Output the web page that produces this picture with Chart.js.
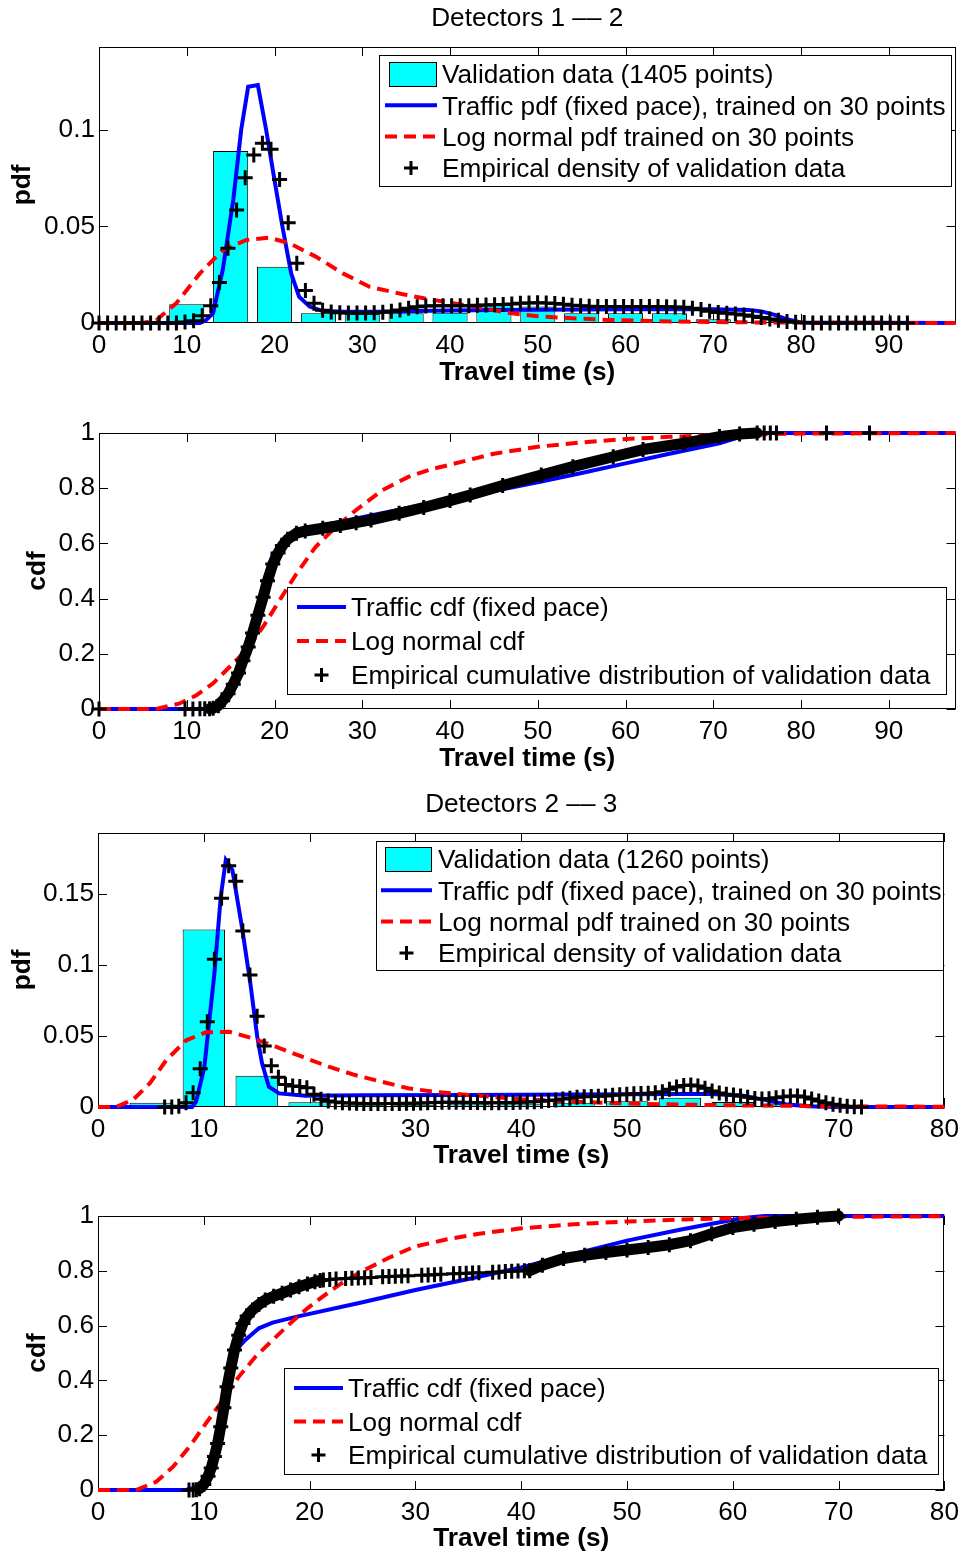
<!DOCTYPE html>
<html>
<head>
<meta charset="utf-8">
<script src="https://cdn.jsdelivr.net/npm/chart.js@4.4.1/dist/chart.umd.min.js"></script>
<style>
  html, body { margin: 0; padding: 0; background: #fff; }
  body { width: 966px; height: 1552px; position: relative; overflow: hidden; }
  canvas { position: absolute; left: 0; }
</style>
</head>
<body>
<canvas id="c1" width="966" height="392" style="top:0px"></canvas>
<canvas id="c2" width="966" height="386" style="top:392px"></canvas>
<canvas id="c3" width="966" height="397" style="top:778px"></canvas>
<canvas id="c4" width="966" height="379" style="top:1175px"></canvas>
<script>
/* ---- Detectors 1 -- 2 : pdf ---- */
const hist12X = [10, 15, 20, 25, 30, 35, 40, 45, 50, 55, 60, 65, 70, 75];
const hist12Y = [0.0097, 0.0891, 0.0292, 0.0050, 0.0047, 0.0050, 0.0053, 0.0095, 0.0085, 0.0050, 0.0050, 0.0050, 0.0020, 0.0005];

const traffic12X = [0, 11.5, 12.2, 13, 14.1, 15.3, 16.2, 17.0, 18.1, 19.05, 20, 20.9, 21.9, 22.8, 24, 25.5, 28, 32, 36, 40, 45, 50, 55, 60, 65, 70, 74, 75.5, 77, 78.5, 80, 97.6];
const traffic12Y = [0, 0, 0.0015, 0.005, 0.0275, 0.0637, 0.1, 0.1224, 0.1233, 0.1, 0.074, 0.05, 0.0257, 0.0136, 0.0085, 0.0062, 0.0058, 0.0058, 0.0062, 0.0065, 0.0067, 0.0069, 0.007, 0.0071, 0.0071, 0.0071, 0.0068, 0.006, 0.0042, 0.0018, 0.0003, 0];

const logn12X = [0, 5, 6.55, 8.8, 11.5, 14.1, 16.8, 19.4, 21.7, 24.7, 27.8, 30.8, 34.5, 37, 40, 44, 47, 50, 54, 58, 63, 68, 75, 85, 97.6];
const logn12Y = [0, 0, 0.0016, 0.0102, 0.0257, 0.0378, 0.043, 0.0442, 0.0413, 0.0344, 0.0257, 0.0188, 0.015, 0.0128, 0.0105, 0.0075, 0.005, 0.0035, 0.0024, 0.0016, 0.001, 0.0006, 0.0003, 0.0001, 0];

const dens12X = [0, 0.98, 1.96, 2.94, 3.92, 4.9, 5.88, 6.86, 7.84, 8.82, 9.8, 10.78, 11.76, 12.74, 13.72, 14.7, 15.68, 16.66, 17.64, 18.62,
  19.6, 20.58, 21.56, 22.54, 23.52, 24.5, 25.48, 26.46, 27.44, 28.42, 29.4, 30.38, 31.36, 32.34, 33.32, 34.3, 35.28, 36.26, 37.24, 38.22,
  39.2, 40.18, 41.16, 42.14, 43.12, 44.1, 45.08, 46.06, 47.04, 48.02, 49, 49.98, 50.96, 51.94, 52.92, 53.9, 54.88, 55.86, 56.84, 57.82,
  58.8, 59.78, 60.76, 61.74, 62.72, 63.7, 64.68, 65.66, 66.64, 67.62, 68.6, 69.58, 70.56, 71.54, 72.52, 73.5, 74.48, 75.46, 76.44, 77.42,
  78.4, 79.38, 80.36, 81.34, 82.32, 83.3, 84.28, 85.26, 86.24, 87.22, 88.2, 89.18, 90.16, 91.14, 92.12];
const dens12Y = [0, 0, 0, 0, 0, 0, 0, 0, 0, 0, 0.0005, 0.0012, 0.0038, 0.009, 0.021, 0.0387, 0.0585, 0.0753, 0.087, 0.0931,
  0.09, 0.0744, 0.052, 0.031, 0.0168, 0.0102, 0.0066, 0.0057, 0.0053, 0.0052, 0.0052, 0.0052, 0.0053, 0.0056, 0.0061, 0.0068, 0.0076, 0.0084, 0.0088, 0.0089,
  0.0089, 0.0089, 0.0089, 0.009, 0.0092, 0.0093, 0.0094, 0.0096, 0.0099, 0.0102, 0.0104, 0.0105, 0.0104, 0.0101, 0.0097, 0.0092, 0.0089, 0.0087, 0.0086, 0.0086,
  0.0086, 0.0086, 0.0086, 0.0085, 0.0085, 0.0085, 0.0084, 0.0083, 0.0081, 0.0077, 0.007, 0.0061, 0.0054, 0.005, 0.0047, 0.0042, 0.0035, 0.0028, 0.0021, 0.0014,
  0.0008, 0.0004, 0.0002, 0, 0, 0, 0, 0, 0, 0, 0, 0, 0, 0, 0];

/* ---- Detectors 1 -- 2 : cdf ---- */
const tcdf12X = [0, 12, 13, 14, 15, 16, 17, 17.5, 18.5, 19.8, 20.8, 21.7, 22.5, 25.5, 29.3, 34.2, 40, 45, 50.4, 55, 60, 65, 70.7, 73, 74.8, 97.6];
const tcdf12Y = [0, 0, 0.01, 0.04, 0.09, 0.17, 0.26, 0.31, 0.42, 0.56, 0.605, 0.632, 0.642, 0.665, 0.69, 0.722, 0.76, 0.79, 0.824, 0.855, 0.89, 0.925, 0.963, 0.985, 1, 1];

const lcdf12X = [0, 6.5, 9.2, 11.1, 13, 14.9, 16.8, 18.7, 20.6, 22.5, 24.7, 27, 29.3, 32.3, 35.3, 38, 40, 45, 50, 55, 60, 65, 70, 80, 97.6];
const lcdf12Y = [0, 0, 0.02, 0.05, 0.093, 0.153, 0.214, 0.298, 0.395, 0.49, 0.588, 0.66, 0.721, 0.793, 0.842, 0.87, 0.885, 0.925, 0.95, 0.966, 0.978, 0.986, 0.992, 0.998, 1];

const ecdf12X = [12.6, 13, 13.6, 14.1, 14.7, 15.3, 15.9, 16.4, 17.0, 17.5, 18.1, 18.7, 19.2, 19.8, 20.4, 20.9, 21.5, 22.5, 23.5, 25.5,
  27.5, 29.3, 31, 34.2, 37, 40, 42.3, 46, 50.4, 54, 58.6, 62, 66.7, 70.7, 73, 75];
const ecdf12Y = [0.001, 0.003, 0.012, 0.03, 0.055, 0.09, 0.13, 0.175, 0.225, 0.275, 0.34, 0.405, 0.465, 0.525, 0.565, 0.592, 0.615, 0.637, 0.645, 0.655,
  0.665, 0.675, 0.685, 0.709, 0.73, 0.755, 0.775, 0.81, 0.848, 0.878, 0.914, 0.94, 0.963, 0.987, 0.996, 1];
const ecdf12SparseX = [0, 9.8, 10.7, 11.5, 12.05, 75.8, 76.5, 77.2, 82.9, 87.8];
const ecdf12SparseY = [0, 0, 0, 0.0007, 0.0007, 1, 1, 1, 1, 1];

/* ---- Detectors 2 -- 3 : pdf ---- */
const hist23X = [5, 10, 15, 20, 25, 30, 35, 40, 45, 50, 55, 60, 65, 70];
const hist23Y = [0.003, 0.125, 0.022, 0.0033, 0.0015, 0.0015, 0.002, 0.002, 0.003, 0.004, 0.0065, 0.0035, 0.0025, 0.001];

const traffic23X = [0, 8.9, 9.27, 10.05, 11.0, 11.6, 12.08, 12.7, 13.6, 14.4, 15.05, 15.5, 16.15, 17.1, 19.6, 25, 35, 45, 55, 58, 61, 63, 65, 67, 70, 80];
const traffic23Y = [0, 0, 0.0037, 0.028, 0.094, 0.148, 0.174, 0.167, 0.127, 0.087, 0.0495, 0.031, 0.0143, 0.0096, 0.008, 0.0082, 0.0085, 0.0088, 0.0092, 0.0092, 0.008, 0.005, 0.002, 0.0005, 0, 0];

const logn23X = [0, 1.7, 3.3, 4.9, 6.45, 8.33, 10.2, 12.4, 14.6, 16.8, 19.3, 21.8, 24.3, 26.8, 29.3, 32, 35, 40, 45, 50, 55, 60, 70, 80];
const logn23Y = [0, 0, 0.005, 0.0167, 0.033, 0.047, 0.0526, 0.053, 0.0484, 0.0425, 0.0354, 0.0284, 0.0225, 0.0178, 0.0132, 0.0105, 0.0085, 0.0055, 0.0037, 0.0025, 0.0017, 0.0012, 0.0005, 0.0002];

const dens23X = [6.30, 6.97, 7.64, 8.32, 8.99, 9.66, 10.33, 11.00, 11.68, 12.35, 13.02, 13.69, 14.36, 15.04, 15.71, 16.38, 17.05, 17.72, 18.40, 19.07,
  19.74, 20.41, 21.08, 21.76, 22.43, 23.10, 23.77, 24.44, 25.12, 25.79, 26.46, 27.13, 27.80, 28.48, 29.15, 29.82, 30.49, 31.16, 31.84, 32.51,
  33.18, 33.85, 34.52, 35.20, 35.87, 36.54, 37.21, 37.88, 38.56, 39.23, 39.90, 40.57, 41.24, 41.92, 42.59, 43.26, 43.93, 44.60, 45.28, 45.95,
  46.62, 47.29, 47.96, 48.64, 49.31, 49.98, 50.65, 51.32, 52.00, 52.67, 53.34, 54.01, 54.68, 55.36, 56.03, 56.70, 57.37, 58.04, 58.72, 59.39,
  60.06, 60.73, 61.40, 62.08, 62.75, 63.42, 64.09, 64.76, 65.44, 66.11, 66.78, 67.45, 68.12, 68.80, 69.47, 70.14, 70.81, 71.48, 72.16];
const dens23Y = [0, 0, 0.0005, 0.003, 0.01, 0.027, 0.06, 0.104, 0.147, 0.17, 0.159, 0.124, 0.093, 0.064, 0.043, 0.029, 0.021, 0.0158, 0.0148, 0.0145,
  0.0135, 0.009, 0.0055, 0.0042, 0.0035, 0.003, 0.0028, 0.0026, 0.0025, 0.0024, 0.0024, 0.0024, 0.0024, 0.0025, 0.0026, 0.0027, 0.0028, 0.003, 0.0032, 0.0033,
  0.0034, 0.0034, 0.0033, 0.0032, 0.0031, 0.003, 0.003, 0.003, 0.0031, 0.0032, 0.0033, 0.0035, 0.0037, 0.004, 0.0045, 0.005, 0.0056, 0.0062, 0.0068, 0.0072,
  0.0074, 0.0076, 0.0078, 0.0082, 0.0086, 0.009, 0.0093, 0.0095, 0.0097, 0.0101, 0.0108, 0.0125, 0.014, 0.0152, 0.0155, 0.0148, 0.0132, 0.0112, 0.0098, 0.009,
  0.0085, 0.0078, 0.0068, 0.006, 0.0057, 0.0058, 0.0065, 0.0073, 0.0078, 0.0077, 0.007, 0.0057, 0.0043, 0.003, 0.002, 0.0012, 0.0006, 0.0002, 0];

/* ---- Detectors 2 -- 3 : cdf ---- */
const tcdf23X = [0, 8.3, 9.5, 10.4, 11.0, 11.6, 12.2, 12.9, 13.9, 15.2, 16.5, 18.7, 25, 30, 35, 40, 45, 50, 55, 58, 61, 63, 80];
const tcdf23Y = [0, 0, 0.012, 0.05, 0.12, 0.23, 0.375, 0.505, 0.547, 0.59, 0.611, 0.632, 0.685, 0.73, 0.77, 0.812, 0.862, 0.91, 0.95, 0.972, 0.993, 1, 1];

const lcdf23X = [0, 3.6, 5.5, 7.1, 8.64, 10.2, 11.8, 13.3, 14.9, 16.5, 18.0, 19.6, 21.2, 23.0, 24.9, 27.4, 29.9, 33, 36, 40, 45, 50, 55, 60, 70, 80];
const lcdf23Y = [0, 0, 0.03, 0.085, 0.158, 0.243, 0.328, 0.413, 0.487, 0.547, 0.602, 0.657, 0.705, 0.754, 0.797, 0.846, 0.888, 0.915, 0.935, 0.955, 0.97, 0.98, 0.987, 0.992, 0.997, 0.999];

const ecdf23X = [9.6, 10.0, 10.4, 10.7, 11.0, 11.3, 11.6, 11.9, 12.2, 12.55, 12.9, 13.3, 13.7, 14.1, 14.6, 15.2, 15.8, 16.6, 17.4, 18.2, 19, 19.8, 20.5, 21.0];
const ecdf23Y = [0.005, 0.02, 0.05, 0.08, 0.122, 0.17, 0.231, 0.3, 0.377, 0.445, 0.511, 0.565, 0.608, 0.635, 0.657, 0.677, 0.693, 0.707, 0.718, 0.73, 0.742, 0.752, 0.76, 0.765];
const ecdf23TailX = [40.8, 42, 44, 46, 48, 50, 52, 54, 56, 58, 60, 62, 64, 66, 68, 70];
const ecdf23TailY = [0.8, 0.82, 0.845, 0.857, 0.867, 0.876, 0.885, 0.895, 0.91, 0.935, 0.958, 0.97, 0.98, 0.988, 0.995, 1];
const ecdf23SparseX = [8.6, 9.0, 9.3, 21.3, 21.9, 22.5, 23.4, 24.0, 24.6, 25.2, 25.8, 26.9, 27.5, 28.1, 28.7, 29.3, 30.6, 31.2, 31.8, 32.4, 33.6, 34.2, 34.8, 35.4, 36.0, 37.3, 37.9, 38.5, 39.1, 39.7, 40.3];
const ecdf23SparseY = [0, 0, 0.001, 0.766, 0.768, 0.770, 0.772, 0.773, 0.774, 0.775, 0.776, 0.778, 0.779, 0.780, 0.781, 0.782, 0.784, 0.785, 0.786, 0.787, 0.789, 0.790, 0.791, 0.792, 0.793, 0.795, 0.796, 0.797, 0.798, 0.799, 0.800];

/* ---- tick values ---- */
const xTicks12 = [0, 10, 20, 30, 40, 50, 60, 70, 80, 90];
const xTicks23 = [0, 10, 20, 30, 40, 50, 60, 70, 80];
const yTicksPdf12 = [0, 0.05, 0.1];
const yTicksPdf23 = [0, 0.05, 0.1, 0.15];
const yTicksCdf = [0, 0.2, 0.4, 0.6, 0.8, 1];

const FONT = '"Liberation Sans", Arial, Helvetica, sans-serif';
const FSIZE = 26.2;
const CYAN = '#00ffff', BLUE = '#0000ff', RED = '#ff0000';
const DASH = [12, 7];

function pts(xs, ys) {
    return xs.map((x, i) => ({ x, y: ys[i] }));
}

function histDs(xs, ys) {
    return {
        type: 'bar', data: pts(xs, ys), backgroundColor: CYAN, borderColor: '#000',
        borderWidth: 1, borderSkipped: false, barPercentage: 0.8, categoryPercentage: 1, order: 4,
    };
}
function solidDs(xs, ys) {
    return {
        type: 'line', data: pts(xs, ys), borderColor: BLUE, borderWidth: 4,
        pointRadius: 0, tension: 0, fill: false, order: 3, clip: false,
    };
}
function dashDs(xs, ys) {
    return {
        type: 'line', data: pts(xs, ys), borderColor: RED, borderWidth: 4, borderDash: DASH,
        pointRadius: 0, tension: 0, fill: false, order: 2, clip: false,
    };
}
function crossDs(xs, ys, band) {
    return {
        type: 'line', data: pts(xs, ys), showLine: !!band, borderColor: '#000',
        borderWidth: band ? 11 : 0, borderJoinStyle: 'round', borderCapStyle: 'round', tension: 0,
        pointStyle: 'cross', pointRadius: 7.5, pointBorderWidth: 3, pointBorderColor: '#000',
        order: 1, clip: false,
    };
}

/* box + inward ticks, MATLAB style */
const matlabAxes = {
    id: 'matlabAxes',
    beforeDatasetsDraw(chart) {
        const { ctx, chartArea: a, scales: { x, y } } = chart;
        ctx.save();
        ctx.strokeStyle = '#000';
        ctx.lineWidth = 1;
        ctx.beginPath();
        x.ticks.forEach(t => {
            const px = Math.round(x.getPixelForValue(t.value)) + 0.5;
            ctx.moveTo(px, a.bottom); ctx.lineTo(px, a.bottom - 9);
            ctx.moveTo(px, a.top); ctx.lineTo(px, a.top + 9);
        });
        y.ticks.forEach(t => {
            const py = Math.round(y.getPixelForValue(t.value)) + 0.5;
            ctx.moveTo(a.left, py); ctx.lineTo(a.left + 9, py);
            ctx.moveTo(a.right, py); ctx.lineTo(a.right - 9, py);
        });
        ctx.stroke();
        ctx.strokeRect(Math.round(a.left) + 0.5, Math.round(a.top) + 0.5,
            Math.round(a.right - a.left) - 1, Math.round(a.bottom - a.top) - 1);
        ctx.restore();
    },
};

const panelTitle = {
    id: 'panelTitle',
    afterDraw(chart, args, o) {
        if (!o.text) return;
        const { ctx, chartArea: a } = chart;
        ctx.save();
        ctx.fillStyle = '#000';
        ctx.font = `${FSIZE}px ${FONT}`;
        ctx.textAlign = 'center';
        ctx.textBaseline = 'middle';
        ctx.fillText(o.text, (a.left + a.right) / 2, o.y);
        ctx.restore();
    },
};

const boxLegend = {
    id: 'boxLegend',
    afterDraw(chart, args, o) {
        if (!o.items) return;
        const ctx = chart.ctx;
        ctx.save();
        ctx.fillStyle = '#fff';
        ctx.fillRect(o.x, o.y, o.w, o.h);
        ctx.strokeStyle = '#000';
        ctx.lineWidth = 1;
        ctx.strokeRect(o.x + 0.5, o.y + 0.5, o.w, o.h);
        ctx.font = `${FSIZE}px ${FONT}`;
        ctx.textAlign = 'left';
        ctx.textBaseline = 'middle';
        o.items.forEach((it, i) => {
            const cy = o.row0 + i * o.rowStep;
            ctx.setLineDash([]);
            if (it.type === 'patch') {
                ctx.fillStyle = CYAN;
                ctx.fillRect(o.sx1 + 4, cy - 12, o.sx2 - o.sx1 - 5, 24);
                ctx.strokeStyle = '#000';
                ctx.lineWidth = 1;
                ctx.strokeRect(o.sx1 + 4.5, cy - 11.5, o.sx2 - o.sx1 - 5, 24);
            } else if (it.type === 'solid' || it.type === 'dash') {
                ctx.strokeStyle = it.type === 'solid' ? BLUE : RED;
                ctx.lineWidth = 4;
                if (it.type === 'dash') ctx.setLineDash(DASH);
                ctx.beginPath();
                ctx.moveTo(o.sx1, cy); ctx.lineTo(o.sx2, cy);
                ctx.stroke();
            } else {
                const cx = (o.sx1 + o.sx2) / 2;
                ctx.strokeStyle = '#000';
                ctx.lineWidth = 3;
                ctx.beginPath();
                ctx.moveTo(cx - 7, cy); ctx.lineTo(cx + 7, cy);
                ctx.moveTo(cx, cy - 7); ctx.lineTo(cx, cy + 7);
                ctx.stroke();
            }
            ctx.fillStyle = '#000';
            ctx.fillText(it.text, o.tx, cy + 2);
        });
        ctx.restore();
    },
};

function panel(id, p) {
    const tickFont = { family: FONT, size: FSIZE };
    const titleFont = { family: FONT, size: FSIZE, weight: 'bold' };
    return new Chart(document.getElementById(id), {
        type: 'scatter',
        data: { datasets: p.datasets },
        options: {
            responsive: false,
            animation: false,
            events: [],
            layout: { padding: { top: p.padTop, right: p.padRight, left: 0, bottom: 0 } },
            scales: {
                x: {
                    type: 'linear', min: 0, max: p.xMax, offset: false,
                    grid: { display: false, drawTicks: false }, border: { display: false },
                    afterBuildTicks: s => { s.ticks = p.xTicks.map(v => ({ value: v })); },
                    afterFit: s => { s.height = p.xHeight; },
                    ticks: { color: '#000', font: tickFont, padding: 7, maxRotation: 0, autoSkip: false, callback: v => String(v) },
                    title: { display: true, text: 'Travel time (s)', color: '#000', font: titleFont, padding: { top: 0, bottom: p.xTitlePad } },
                },
                y: {
                    type: 'linear', min: 0, max: p.yMax,
                    grid: { display: false, drawTicks: false }, border: { display: false },
                    afterBuildTicks: s => { s.ticks = p.yTicks.map(v => ({ value: v })); },
                    afterFit: s => { s.width = p.yWidth; },
                    ticks: { color: '#000', font: tickFont, padding: 4, autoSkip: false, callback: v => String(v) },
                    title: { display: true, text: p.yTitle, color: '#000', font: titleFont, padding: { top: p.yTitlePad, bottom: 0 } },
                },
            },
            plugins: {
                legend: { display: false },
                tooltip: { enabled: false },
                panelTitle: p.title || {},
                boxLegend: p.legend,
            },
        },
        plugins: [matlabAxes, panelTitle, boxLegend],
    });
}

panel('c1', {
    padTop: 47, padRight: 8, yWidth: 99, xHeight: 69, xMax: 97.6, yMax: 0.143,
    xTicks: xTicks12, yTicks: yTicksPdf12, yTitle: 'pdf', yTitlePad: 7, xTitlePad: 4,
    title: { text: 'Detectors 1 \u2013\u2013 2', y: 19 },
    datasets: [
        histDs(hist12X, hist12Y),
        solidDs(traffic12X, traffic12Y),
        dashDs(logn12X, logn12Y),
        crossDs(dens12X, dens12Y, false),
    ],
    legend: {
        x: 379, y: 55, w: 572, h: 131, row0: 74, rowStep: 31.3, sx1: 385, sx2: 437, tx: 442,
        items: [
            { type: 'patch', text: 'Validation data (1405 points)' },
            { type: 'solid', text: 'Traffic pdf (fixed pace), trained on 30 points' },
            { type: 'dash', text: 'Log normal pdf trained on 30 points' },
            { type: 'cross', text: 'Empirical density of validation data' },
        ],
    },
});

panel('c2', {
    padTop: 41, padRight: 8, yWidth: 99, xHeight: 69, xMax: 97.6, yMax: 1,
    xTicks: xTicks12, yTicks: yTicksCdf, yTitle: 'cdf', yTitlePad: 22, xTitlePad: 4,
    datasets: [
        solidDs(tcdf12X, tcdf12Y),
        dashDs(lcdf12X, lcdf12Y),
        crossDs(ecdf12X, ecdf12Y, true),
        crossDs(ecdf12SparseX, ecdf12SparseY, false),
    ],
    legend: {
        x: 287, y: 195, w: 659, h: 107, row0: 215, rowStep: 34, sx1: 297, sx2: 346, tx: 351,
        items: [
            { type: 'solid', text: 'Traffic cdf (fixed pace)' },
            { type: 'dash', text: 'Log normal cdf' },
            { type: 'cross', text: 'Empirical cumulative distribution of validation data' },
        ],
    },
});

panel('c3', {
    padTop: 55, padRight: 16, yWidth: 98, xHeight: 68, xMax: 80, yMax: 0.193,
    xTicks: xTicks23, yTicks: yTicksPdf23, yTitle: 'pdf', yTitlePad: 7, xTitlePad: 4,
    title: { text: 'Detectors 2 \u2013\u2013 3', y: 27 },
    datasets: [
        histDs(hist23X, hist23Y),
        solidDs(traffic23X, traffic23Y),
        dashDs(logn23X, logn23Y),
        crossDs(dens23X, dens23Y, false),
    ],
    legend: {
        x: 376, y: 63, w: 567, h: 129, row0: 81, rowStep: 31.3, sx1: 381, sx2: 432, tx: 438,
        items: [
            { type: 'patch', text: 'Validation data (1260 points)' },
            { type: 'solid', text: 'Traffic pdf (fixed pace), trained on 30 points' },
            { type: 'dash', text: 'Log normal pdf trained on 30 points' },
            { type: 'cross', text: 'Empirical density of validation data' },
        ],
    },
});

panel('c4', {
    padTop: 41, padRight: 16, yWidth: 98, xHeight: 64, xMax: 80, yMax: 1,
    xTicks: xTicks23, yTicks: yTicksCdf, yTitle: 'cdf', yTitlePad: 22, xTitlePad: 0,
    datasets: [
        solidDs(tcdf23X, tcdf23Y),
        dashDs(lcdf23X, lcdf23Y),
        crossDs(ecdf23X, ecdf23Y, true),
        crossDs(ecdf23TailX, ecdf23TailY, true),
        crossDs(ecdf23SparseX, ecdf23SparseY, false),
    ],
    legend: {
        x: 284, y: 193, w: 654, h: 106, row0: 213, rowStep: 33.5, sx1: 294, sx2: 343, tx: 348,
        items: [
            { type: 'solid', text: 'Traffic cdf (fixed pace)' },
            { type: 'dash', text: 'Log normal cdf' },
            { type: 'cross', text: 'Empirical cumulative distribution of validation data' },
        ],
    },
});
</script>
</body>
</html>
